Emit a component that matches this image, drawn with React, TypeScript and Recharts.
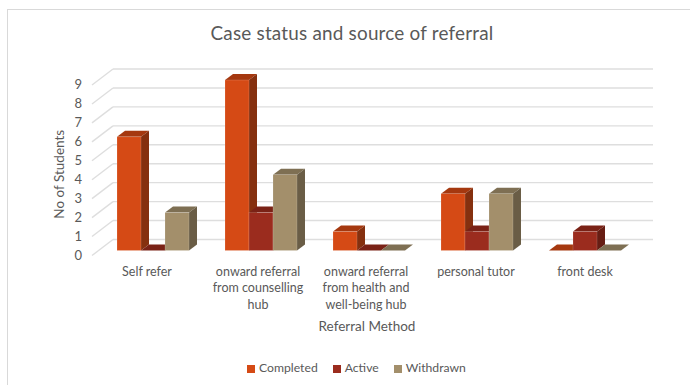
import React from "react";
import { BarChart, Bar, XAxis, YAxis, CartesianGrid, Legend, Label } from "recharts";

const categories = ["Self refer", "onward referral from counselling hub", "onward referral from health and well-being hub", "personal tutor", "front desk"];
const categoryLines = [["Self refer"], ["onward referral", "from counselling", "hub"], ["onward referral", "from health and", "well-being hub"], ["personal tutor"], ["front desk"]];
const completed = [6, 9, 1, 3, 0];
const active = [0, 2, 0, 1, 1];
const withdrawn = [2, 4, 0, 3, 0];
const yTicks = [0, 1, 2, 3, 4, 5, 6, 7, 8, 9];

const rows = categories.map((name, i) => ({ name, completed: completed[i], active: active[i], withdrawn: withdrawn[i] }));

const FONT = "Lato, Carlito, sans-serif";
const TEXT = "#595959";
const DX = 8;
const DY = 6;

const makeShape = (front: string, top: string, side: string) => (p: any) => {
  const { x, y, width, height } = p;
  const b = y + height;
  return (
    <g>
      <polygon points={`${x},${y} ${x + DX},${y - DY} ${x + width + DX},${y - DY} ${x + width},${y}`} fill={top} />
      <polygon points={`${x + width},${y} ${x + width + DX},${y - DY} ${x + width + DX},${b - DY} ${x + width},${b}`} fill={side} />
      {height > 0 && <rect x={x} y={y} width={width} height={height} fill={front} stroke="#ffffff" strokeOpacity={0.25} strokeWidth={0.6} />}
    </g>
  );
};

const GridLine = (p: any) => {
  const { x1, x2, y1, y2 } = p;
  return (
    <g stroke="#dedede" strokeWidth={1.4} fill="none" key={p.key}>
      <line x1={x1 + 14} x2={x2 + 14} y1={y1 - 11} y2={y2 - 11} />
      <line x1={x1 - 7} x2={x1 + 14} y1={y1 + 5} y2={y1 - 11} />
    </g>
  );
};

const XTick = (p: any) => {
  const { x, y, index } = p;
  const shifts = [-6, -3, -3, -1, 0];
  return (
    <text x={x + shifts[index]} y={y} textAnchor="middle" fontFamily={FONT} fontSize={12.5} fill={TEXT}>
      {categoryLines[index].map((line, i) => (
        <tspan key={line} x={x + shifts[index]} dy={i === 0 ? 17 : 16.5}>{line}</tspan>
      ))}
    </text>
  );
};

export default function App() {
  return (
    <div style={{ position: "absolute", left: 0, top: 0, width: 690, height: 385, overflow: "hidden", background: "#fff" }}>
      <div style={{ position: "absolute", left: 7, top: 9, width: 700, height: 400, border: "1px solid #d9d9d9", boxSizing: "border-box" }} />
      <div style={{ position: "absolute", left: 7, width: 690, top: 21, textAlign: "center", fontFamily: FONT, fontSize: 18.9, color: TEXT, letterSpacing: 0.2 }}>
        Case status and source of referral
      </div>
      <BarChart width={690} height={385} data={rows} barGap={0} barSize={24} margin={{ top: 80, right: 51, left: 0, bottom: 0 }} style={{ position: "absolute", left: 0, top: 0 }}>
        <CartesianGrid vertical={false} horizontal={GridLine as any} />
        <XAxis dataKey="name" axisLine={false} tickLine={false} height={134.5} interval={0} tick={XTick as any}>
          <Label value="Referral Method" position="insideTop" dx={-2} dy={66} style={{ fontFamily: FONT, fontSize: 13.5, fill: TEXT }} />
        </XAxis>
        <YAxis domain={[0, 9]} ticks={yTicks} interval={0} axisLine={false} tickLine={false} tickSize={0} tickMargin={17} width={99} dy={4.5} tick={{ fontFamily: FONT, fontSize: 13, fill: TEXT }}>
          <Label value="No of Students" angle={-90} position="insideLeft" dx={54} dy={9} style={{ fontFamily: FONT, fontSize: 13.5, fill: TEXT, textAnchor: "middle" }} />
        </YAxis>
        <Legend layout="horizontal" verticalAlign="middle" align="center" iconType="square" iconSize={8} itemSorter={null as any}
          wrapperStyle={{ top: 360, left: 0, width: 728, fontFamily: FONT, fontSize: 12.2, color: TEXT }}
          formatter={(v: string) => <span style={{ color: TEXT, marginRight: 5 }}>{v}</span>} />
        <Bar dataKey="completed" name="Completed" fill="#D54A15" isAnimationActive={false} shape={makeShape("#D54A15", "#A5380F", "#85300F") as any} />
        <Bar dataKey="active" name="Active" fill="#9B2C1E" isAnimationActive={false} shape={makeShape("#9B2C1E", "#7A2216", "#671D13") as any} />
        <Bar dataKey="withdrawn" name="Withdrawn" fill="#A38F6B" isAnimationActive={false} shape={makeShape("#A38F6B", "#7E6F53", "#6A5D46") as any} />
      </BarChart>
    </div>
  );
}
